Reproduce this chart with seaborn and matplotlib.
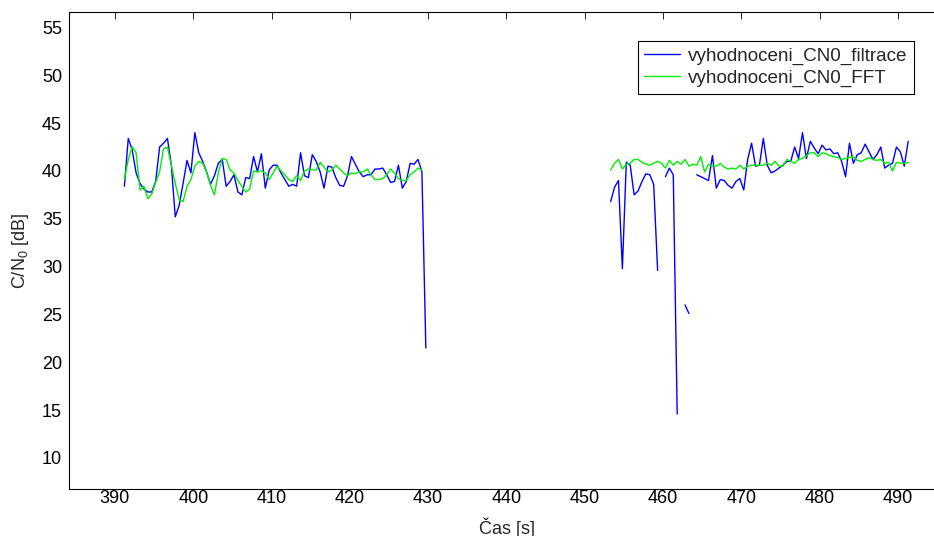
import numpy as np
import pandas as pd
import matplotlib
matplotlib.use("Agg")
import matplotlib.pyplot as plt
import seaborn as sns


sns.set_style("white")
plt.rcParams["font.family"] = ["Liberation Sans", "DejaVu Sans"]
plt.rcParams["mathtext.fontset"] = "custom"
plt.rcParams["mathtext.rm"] = "Liberation Sans"
plt.rcParams["mathtext.it"] = "Liberation Sans:italic"

FIG_W, FIG_H = 934, 536
STEP = 0.5
T1_START = 391.2
T2_START = 453.3
LABEL_FILT = "vyhodnoceni_CN0_filtrace"
LABEL_FFT = "vyhodnoceni_CN0_FFT"
NAN = float("nan")

# first pass (391 - 430 s)
filtrace_1 = [38.4, 43.4, 42.2, 39.8, 38.7, 38.1, 37.8, 37.8, 38.9, 42.5,
              42.9, 43.4, 40.6, 35.2, 36.4, 38.7, 41.1, 39.8, 44.0, 41.9,
              41.0, 39.9, 38.6, 39.5, 40.8, 41.2, 38.4, 38.9, 39.6, 37.8,
              37.5, 39.3, 39.2, 41.5, 39.9, 41.8, 38.2, 40.1, 40.6, 40.6,
              39.8, 39.1, 38.4, 38.6, 38.4, 41.9, 39.5, 39.3, 41.7, 41.0,
              39.9, 38.2, 40.5, 40.4, 39.3, 38.5, 38.4, 39.5, 41.5, 40.7,
              39.9, 39.4, 39.6, 39.6, 40.2, 40.2, 40.3, 39.6, 38.8, 38.9,
              40.6, 38.2, 38.9, 40.8, 40.7, 41.2, 39.9, 21.5]
fft_1 = [39.1, 41.2, 42.5, 41.9, 38.0, 38.4, 37.1, 37.6, 38.8, 39.9,
         42.3, 42.5, 40.6, 38.7, 37.0, 36.8, 38.4, 39.1, 40.5, 41.0,
         40.8, 39.9, 38.5, 37.5, 39.8, 41.3, 41.2, 40.1, 39.8, 39.0,
         38.4, 37.8, 38.1, 40.0, 39.9, 40.0, 39.8, 39.1, 39.8, 40.5,
         40.0, 39.6, 39.1, 38.9, 39.5, 39.0, 40.0, 40.2, 40.1, 40.1,
         40.9, 40.4, 39.9, 40.1, 40.6, 40.2, 39.8, 39.5, 39.8, 39.7,
         39.9, 39.9, 40.2, 39.6, 39.1, 39.1, 39.2, 39.6, 40.2, 39.8,
         39.2, 39.0, 39.0, 39.6, 39.9, 40.3, 40.1]

# second pass (453 - 492 s), NaN = no value
filtrace_2 = [36.8, 38.3, 39.0, 29.8, 40.9, 40.6, 37.5, 37.9, 38.9, 39.7,
              39.6, 38.6, 29.6, NAN, 39.4, 40.3, 39.6, 14.6, NAN, 26.0,
              25.1, NAN, 39.6, 39.4, 39.2, 39.0, 41.6, 38.2, 39.1, 39.0,
              38.5, 38.2, 38.9, 39.2, 38.0, 41.2, 42.9, 40.5, 40.6, 43.4,
              40.6, 39.8, 40.0, 40.3, 40.6, 41.0, 41.0, 42.5, 41.3, 44.0,
              41.3, 43.1, 42.4, 41.8, 42.7, 42.2, 42.3, 41.8, 41.9, 41.0,
              39.4, 42.9, 40.8, 41.7, 41.9, 42.8, 42.0, 41.2, 41.7, 42.5,
              40.3, 40.6, 40.8, 42.5, 42.0, 40.5, 43.1]
fft_2 = [40.1, 40.8, 41.2, 40.2, 40.7, 40.8, 41.2, 41.2, 40.9, 40.7,
         40.6, 40.8, 41.0, 40.8, 40.3, 41.1, 40.6, 41.0, 40.7, 41.2,
         40.5, 40.7, 40.6, 41.5, 39.9, 40.7, 40.5, 40.5, 40.8, 40.4,
         40.2, 40.3, 40.2, 40.6, 40.2, 40.5, 40.6, 40.6, 40.6, 40.6,
         40.8, 40.6, 41.0, 40.5, 40.5, 41.2, 41.0, 40.8, 41.2, 41.3,
         41.6, 41.9, 41.9, 41.5, 41.9, 41.8, 41.6, 41.5, 41.4, 41.2,
         41.3, 41.4, 41.5, 41.1, 41.0, 41.2, 41.4, 41.2, 41.1, 41.2,
         40.8, 40.9, 40.0, 40.9, 40.8, 40.8, 40.9]

X_TICKS = list(range(390, 491, 10))
Y_TICKS = list(range(10, 56, 5))


def to_rows(start, values, name, seg_id):
    # split the series at NaN so the gaps stay open
    rows = []
    for i, v in enumerate(values):
        if np.isnan(v):
            seg_id += 1
            continue
        rows.append({"t": start + STEP * i, "cn0": v, "series": name, "seg": seg_id})
    return rows, seg_id + 1


rows = []
seg = 0
for start, vals, name in [(T1_START, filtrace_1, LABEL_FILT), (T2_START, filtrace_2, LABEL_FILT),
                          (T1_START, fft_1, LABEL_FFT), (T2_START, fft_2, LABEL_FFT)]:
    r, seg = to_rows(start, vals, name, seg)
    rows += r
df = pd.DataFrame(rows)

fig = plt.figure(figsize=(FIG_W / 100, FIG_H / 100), dpi=100)
left, right, top, bottom = 69, 945, 12.3, 489
ax = fig.add_axes([left / FIG_W, (FIG_H - bottom) / FIG_H, (right - left) / FIG_W, (bottom - top) / FIG_H])

sns.lineplot(data=df, x="t", y="cn0", hue="series", units="seg", estimator=None, sort=False,
             hue_order=[LABEL_FILT, LABEL_FFT],
             palette={LABEL_FILT: "#0000ff", LABEL_FFT: "#00f000"},
             linewidth=1.0, ax=ax)

ax.set_xlim(384.13, 496.0)
ax.set_ylim(6.76, 56.58)
ax.set_xticks(X_TICKS)
ax.set_yticks(Y_TICKS)
ax.tick_params(direction="in", length=5, width=0.6, top=True, right=True,
               labelsize=13, colors="black")
ax.tick_params(axis="x", pad=1)
ax.tick_params(axis="y", pad=5)
for sp in ax.spines.values():
    sp.set_color("black")
    sp.set_linewidth(0.8)
ax.set_xlabel("Čas [s]", fontsize=13, labelpad=7)
ax.set_ylabel("C/N$_{0}$ [dB]", fontsize=13, labelpad=8)

handles, labels = ax.get_legend_handles_labels()
leg = ax.legend(handles, labels, loc="upper right", bbox_to_anchor=(914 / FIG_W, 1 - 41 / FIG_H),
                bbox_transform=fig.transFigure, frameon=True, fancybox=False, framealpha=1,
                edgecolor="black", fontsize=13.6, handlelength=1.9, borderpad=0.35,
                labelspacing=0.25, handletextpad=0.4, borderaxespad=0)
leg.get_frame().set_linewidth(0.8)

fig.savefig("out.png", dpi=100)
plt.close(fig)
